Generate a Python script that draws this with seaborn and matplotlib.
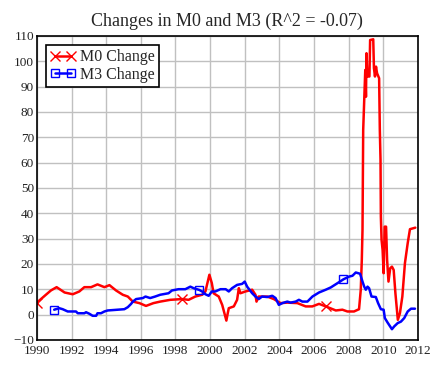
import numpy as np
import pandas as pd
import seaborn as sns
import matplotlib.pyplot as plt
from matplotlib.lines import Line2D

# values (decimal year, % change)
m0_year = [1990.0, 1990.52, 1990.81, 1991.14, 1991.6, 1992.07, 1992.45, 1992.74, 1993.13,
           1993.5, 1993.9, 1994.19, 1994.57, 1994.96, 1995.25, 1995.54, 1995.92, 1996.3,
           1996.73, 1997.12, 1997.7, 1998.38, 1998.76, 1999.15, 1999.54, 1999.73, 1999.96,
           2000.1, 2000.2, 2000.5, 2000.7, 2000.94, 2001.02, 2001.08, 2001.37, 2001.56,
           2001.66, 2001.75, 2002.04, 2002.43, 2002.62, 2002.68, 2002.8, 2003.3, 2003.68,
           2004.07, 2004.46, 2005.04, 2005.52, 2005.9, 2006.29, 2006.68, 2007.26, 2007.64,
           2007.93, 2008.31, 2008.6, 2008.7, 2008.76, 2008.8, 2008.84, 2008.9, 2008.96,
           2009.0, 2009.03, 2009.08, 2009.2, 2009.24, 2009.42, 2009.46, 2009.52, 2009.58,
           2009.64, 2009.76, 2009.8, 2009.84, 2009.86, 2009.9, 2009.96, 2010.02, 2010.08,
           2010.16, 2010.22, 2010.3, 2010.4, 2010.5, 2010.6, 2010.7, 2010.84, 2010.96,
           2011.1, 2011.25, 2011.41, 2011.54, 2011.85]
m0_change = [4.7, 7.8, 9.5, 10.8, 8.7, 8.0, 9.1, 10.8, 10.8,
             11.9, 10.8, 11.6, 9.5, 7.8, 7.1, 5.1, 4.5, 3.4,
             4.5, 5.1, 5.8, 6.1, 5.8, 7.1, 7.8, 9.1, 15.7,
             12.4, 8.4, 7.1, 3.8, -2.4, 0.5, 2.5, 3.2, 5.8,
             10.4, 8.4, 9.1, 9.8, 7.8, 5.1, 7.1, 7.1, 6.1,
             4.5, 4.7, 4.5, 3.2, 3.2, 4.2, 3.2, 1.6, 1.9,
             1.2, 1.2, 2.1, 9.8, 21.6, 33.4, 72.9, 84.8, 96.6,
             86.0, 103.2, 94.0, 94.0, 108.4, 108.7, 97.3, 94.0, 97.9,
             95.3, 93.3, 72.9, 61.1, 38.7, 29.5, 25.5, 16.3, 34.7,
             34.7, 21.6, 13.0, 18.3, 18.9, 17.6, 8.4, -2.1, 0.5,
             7.1, 20.3, 28.2, 33.7, 34.3]

m3_year = [1991.0, 1991.29, 1991.49, 1991.78, 1992.26, 1992.36, 1992.74, 1992.84, 1993.03,
           1993.22, 1993.42, 1993.5, 1993.7, 1993.9, 1994.09, 1994.67, 1995.05, 1995.25,
           1995.44, 1995.54, 1995.73, 1996.12, 1996.27, 1996.54, 1996.83, 1997.12, 1997.6,
           1997.8, 1998.18, 1998.57, 1998.86, 1999.05, 1999.38, 1999.54, 1999.73, 1999.92,
           2000.1, 2000.3, 2000.6, 2000.9, 2001.08, 2001.27, 2001.56, 2001.85, 2002.0,
           2002.14, 2002.43, 2002.62, 2002.81, 2003.0, 2003.3, 2003.59, 2003.78, 2003.97,
           2004.17, 2004.46, 2004.65, 2004.94, 2005.13, 2005.33, 2005.62, 2005.91, 2006.29,
           2006.68, 2006.97, 2007.36, 2007.7, 2008.03, 2008.22, 2008.41, 2008.66, 2008.8,
           2008.9, 2008.99, 2009.09, 2009.18, 2009.32, 2009.57, 2009.7, 2009.86, 2010.02,
           2010.09, 2010.25, 2010.5, 2010.63, 2010.83, 2011.02, 2011.21, 2011.41, 2011.6,
           2011.83]
m3_change = [1.9, 2.5, 2.1, 1.2, 1.2, 0.5, 0.5, 0.9, 0.3,
             -0.5, -0.5, 0.5, 0.5, 1.2, 1.6, 1.9, 2.1, 2.9,
             4.2, 5.1, 6.1, 6.5, 7.1, 6.5, 7.1, 7.8, 8.4,
             9.5, 10.0, 10.0, 11.0, 10.4, 9.7, 9.1, 8.0, 7.4,
             9.1, 9.1, 10.0, 10.0, 9.1, 10.4, 11.7, 12.1, 13.0,
             11.0, 8.4, 7.1, 6.1, 7.1, 6.9, 7.4, 6.5, 3.8,
             4.5, 5.1, 4.7, 5.1, 5.8, 5.1, 5.1, 7.1, 8.7,
             9.8, 10.7, 12.4, 13.9, 15.0, 15.3, 16.6, 16.1, 13.0,
             11.0, 9.8, 11.0, 10.4, 7.1, 6.9, 4.5, 2.1, 1.9,
             -1.4, -3.2, -5.8, -4.7, -3.4, -2.8, -1.4, 1.2, 2.3,
             2.3]

# where the sparse markers sit on each line
m0_marker_years = [1990.0, 1998.38, 2006.68]
m3_marker_years = [1991.0, 1999.38, 2007.7]

x_ticks = list(range(1990, 2013, 2))
y_ticks = list(range(-10, 111, 10))
y_tick_labels = ["\u221210"] + [str(v) for v in y_ticks[1:]]

m0 = pd.DataFrame({"year": m0_year, "change": m0_change})
m3 = pd.DataFrame({"year": m3_year, "change": m3_change})

sns.set_theme(style="whitegrid", rc={"grid.color": "#c0c0c0", "grid.linewidth": 1.0,
                                     "axes.edgecolor": "black", "axes.linewidth": 1.2})
plt.rcParams["font.family"] = ["Liberation Serif", "DejaVu Serif"]

fig = plt.figure(figsize=(4.39, 3.71), dpi=100)
ax = fig.add_axes([0.084, 0.084, 0.868, 0.819])

sns.lineplot(data=m0, x="year", y="change", ax=ax, color="red", linewidth=1.8,
             estimator=None, sort=False)
sns.lineplot(data=m3, x="year", y="change", ax=ax, color="blue", linewidth=1.8,
             estimator=None, sort=False)

i0 = [int(np.argmin(np.abs(m0["year"] - y))) for y in m0_marker_years]
i3 = [int(np.argmin(np.abs(m3["year"] - y))) for y in m3_marker_years]
ax.plot(m0["year"].iloc[i0], m0["change"].iloc[i0], ls="none", marker="x",
        color="red", markersize=7, markeredgewidth=1.0)
ax.plot(m3["year"].iloc[i3], m3["change"].iloc[i3], ls="none", marker="s",
        color="blue", markersize=6, markerfacecolor="none", markeredgewidth=1.0)

ax.set_xlim(1990, 2012)
ax.set_ylim(-10, 110)
ax.set_xticks(x_ticks)
ax.set_yticks(y_ticks)
ax.set_yticklabels(y_tick_labels)
ax.set_xlabel("")
ax.set_ylabel("")
ax.tick_params(length=0, labelsize=9.5, colors="#222222")
ax.tick_params(axis="x", pad=4)
ax.tick_params(axis="y", pad=2)
for s in ax.spines.values():
    s.set_color("black")

ax.set_title("Changes in M0 and M3 (R^2 = -0.07)", fontsize=13, pad=7)

handles = [Line2D([], [], color="red", linewidth=1.8, marker="x", markersize=7,
                  markeredgewidth=1.0),
           Line2D([], [], color="blue", linewidth=1.8, marker="s", markersize=6,
                  markerfacecolor="none", markeredgewidth=1.0)]
leg = ax.legend(handles, ["M0 Change", "M3 Change"], loc="upper left", fontsize=11.5,
                numpoints=2, handlelength=1.6, handletextpad=0.3, borderpad=0.25,
                labelspacing=0.1, fancybox=False, framealpha=1, edgecolor="black",
                bbox_to_anchor=(0.024, 0.97), borderaxespad=0)
leg.get_frame().set_linewidth(1.2)

fig.savefig("out.png", dpi=100)
